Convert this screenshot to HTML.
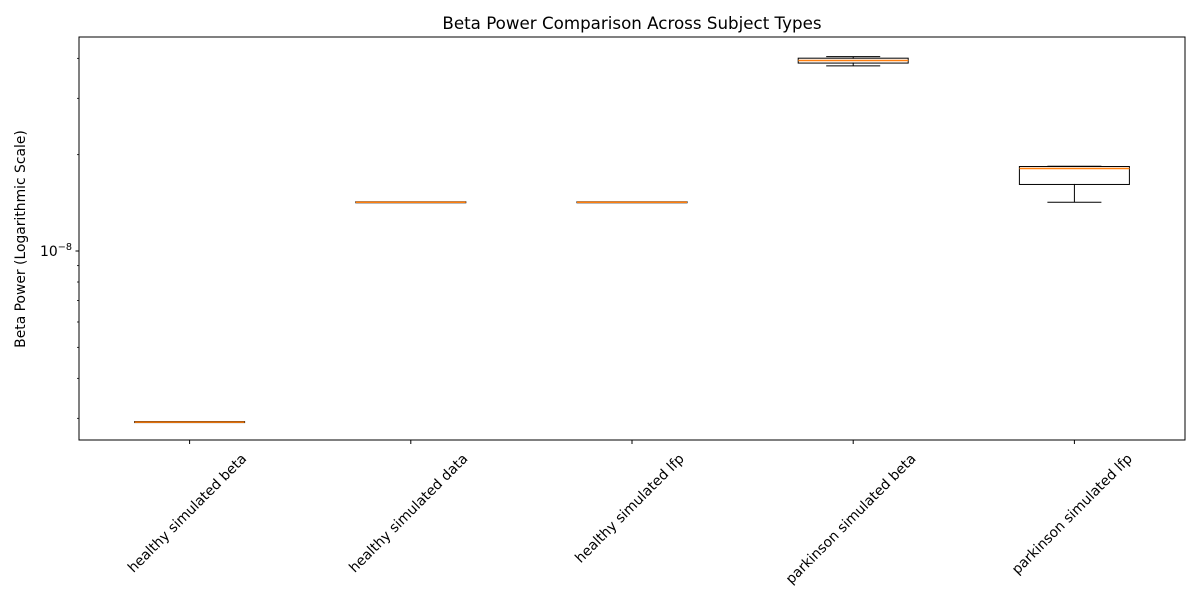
<!DOCTYPE html>
<html><head><meta charset="utf-8"><style>
body{margin:0;background:#fff;}
svg{font-family:"DejaVu Sans","Liberation Sans",sans-serif;}
</style></head><body>
<svg id="chart" width="1200" height="600" xmlns="http://www.w3.org/2000/svg">
<rect width="1200" height="600" fill="#fff"/>
<text x="632" y="29" font-size="16.7" text-anchor="middle">Beta Power Comparison Across Subject Types</text>
<text transform="translate(25,239) rotate(-90)" font-size="13.9" text-anchor="middle">Beta Power (Logarithmic Scale)</text>
<g id="plot"></g>
<rect x="79" y="37" width="1106" height="403" fill="none" stroke="#000" stroke-width="1"/>
</svg>
<script>
const categories=["healthy simulated beta","healthy simulated data","healthy simulated lfp","parkinson simulated beta","parkinson simulated lfp"];
const whiskLow=[2.92e-9,1.42e-8,1.42e-8,3.79e-8,1.42e-8];
const q1=[2.92e-9,1.42e-8,1.42e-8,3.88e-8,1.62e-8];
const medians=[2.92e-9,1.42e-8,1.42e-8,3.94e-8,1.81e-8];
const q3=[2.92e-9,1.42e-8,1.42e-8,3.99e-8,1.83e-8];
const whiskHigh=[2.92e-9,1.42e-8,1.42e-8,4.05e-8,1.84e-8];
const majorTicks=[1e-8];
const minorTicks=[3e-9,4e-9,5e-9,6e-9,7e-9,8e-9,9e-9,2e-8,3e-8,4e-8];

const NS="http://www.w3.org/2000/svg";
const g=document.getElementById('plot');
const X0=79,W=1106;
function xS(i){return X0+W*(i+0.5)/categories.length;}
function yS(v){return 251-320*Math.log10(v/1e-8);}
function mk(tag,a,parent){const e=document.createElementNS(NS,tag);for(const k in a)e.setAttribute(k,a[k]);(parent||g).appendChild(e);return e;}
const boxHalf=55,capHalf=27;
majorTicks.forEach(v=>{
  const t=mk('line',{x1:75.5,x2:79,y1:yS(v),y2:yS(v),stroke:'#000'});
  
  
  const l=mk('text',{x:72,y:yS(v)+5,'font-size':13.9,'text-anchor':'end'});
  
  
  l.innerHTML='10<tspan dy="-6" font-size="9.7">\u22128</tspan>';
});
minorTicks.forEach(v=>{
  const t=mk('line',{x1:77,x2:79,y1:yS(v),y2:yS(v),stroke:'#000','stroke-width':0.8});
  
  
});
categories.forEach((c,i)=>{
  const x=xS(i);
  const grp=mk('g',{});
  
  
  mk('line',{x1:x,x2:x,y1:yS(whiskHigh[i]),y2:yS(q3[i]),stroke:'#000'},grp);
  mk('line',{x1:x,x2:x,y1:yS(q1[i]),y2:yS(whiskLow[i]),stroke:'#000'},grp);
  mk('line',{x1:x-capHalf,x2:x+capHalf,y1:yS(whiskHigh[i]),y2:yS(whiskHigh[i]),stroke:'#000'},grp);
  mk('line',{x1:x-capHalf,x2:x+capHalf,y1:yS(whiskLow[i]),y2:yS(whiskLow[i]),stroke:'#000'},grp);
  mk('rect',{x:x-boxHalf,y:yS(q3[i])-0.5,width:2*boxHalf,height:Math.max(1,yS(q1[i])-yS(q3[i])+1),fill:'none',stroke:'#000'},grp);
  mk('line',{x1:x-boxHalf,x2:x+boxHalf,y1:yS(medians[i]),y2:yS(medians[i]),stroke:'#ff7f0e','stroke-width':1.5},grp);
  const t=mk('line',{x1:x,x2:x,y1:440,y2:444,stroke:'#000'});
  
  
  const l=mk('text',{'font-size':13.9,'text-anchor':'middle','dominant-baseline':'central'});
  
  
  l.textContent=c;
  const tw=l.getComputedTextLength();
  const hh=(tw+16)*0.7071/2;
  l.setAttribute('transform','translate('+(x-2)+','+(451+hh)+') rotate(-45)');
});
</script>
</body></html>
